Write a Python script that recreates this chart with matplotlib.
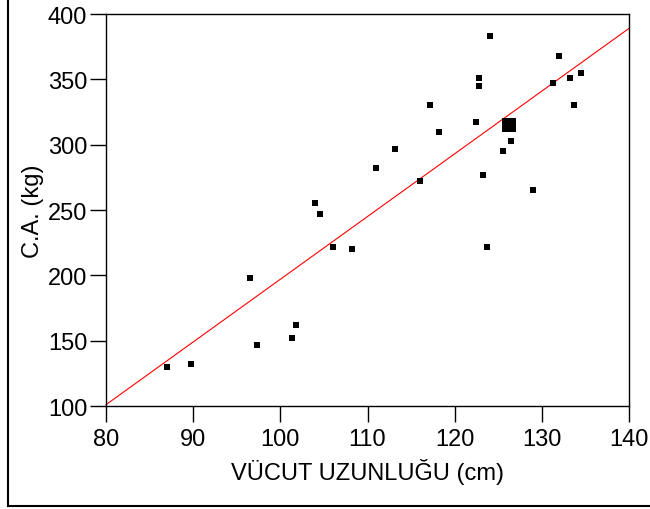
import matplotlib
matplotlib.use("Agg")
import matplotlib.pyplot as plt
from matplotlib.lines import Line2D
import numpy as np

plt.rcParams['font.family'] = ['Liberation Sans', 'DejaVu Sans']

# Data
body_length = [124.0, 132.0, 122.75, 122.75, 133.2, 134.5, 131.25, 133.7, 117.2,
               122.5, 118.2, 126.5, 125.5, 113.2, 111.0, 123.3, 116.0, 129.0,
               106.0, 108.2, 123.7, 104.0, 104.5, 96.5, 101.8, 101.3, 97.3,
               89.8, 87.0]
strength = [383, 368, 351, 345, 351, 355, 347, 330, 330,
            317, 310, 303, 295, 297, 282, 277, 272, 265,
            222, 220, 222, 255, 247, 198, 162, 152, 147,
            132, 130]
mean_x = [126.2]
mean_y = [315]
fit_slope = 4.8
fit_intercept = -283.0

x_ticks = [80, 90, 100, 110, 120, 130, 140]
y_ticks = [100, 150, 200, 250, 300, 350, 400]

fig = plt.figure(figsize=(6.5, 5.1), dpi=100)
ax = fig.add_axes([106/650, 1 - 407/510, (629 - 106)/650, (407 - 15)/510])

ax.scatter(body_length, strength, marker='s', s=4.2**2, color='black', linewidths=0, zorder=3)
ax.scatter(mean_x, mean_y, marker='s', s=10.5**2, color='black', linewidths=0, zorder=3)

lx = np.array([x_ticks[0], x_ticks[-1]])
ax.plot(lx, fit_slope * lx + fit_intercept, color='red', lw=0.8, zorder=2, clip_on=False)

ax.set_xlim(80, 140)
ax.set_ylim(100, 400)
ax.set_xticks(x_ticks)
ax.set_yticks(y_ticks)
ax.tick_params(direction='out', length=11.5, width=1, labelsize=17, pad=2, colors='black')
ax.tick_params(axis='x', pad=4)
for s in ax.spines.values():
    s.set_linewidth(1)
    s.set_color('black')

ax.set_xlabel('VÜCUT UZUNLUĞU (cm)', fontsize=17, labelpad=6)
ax.set_ylabel('C.A. (kg)', fontsize=17, labelpad=3)

# figure frame (left and bottom edges)
fig.add_artist(Line2D([8/650, 8/650], [1 - 507/510, 1.0], transform=fig.transFigure, color='black', lw=1.5))
fig.add_artist(Line2D([8/650, 1.0], [1 - 507/510, 1 - 507/510], transform=fig.transFigure, color='black', lw=1.5))

fig.savefig('out.png', dpi=100)
